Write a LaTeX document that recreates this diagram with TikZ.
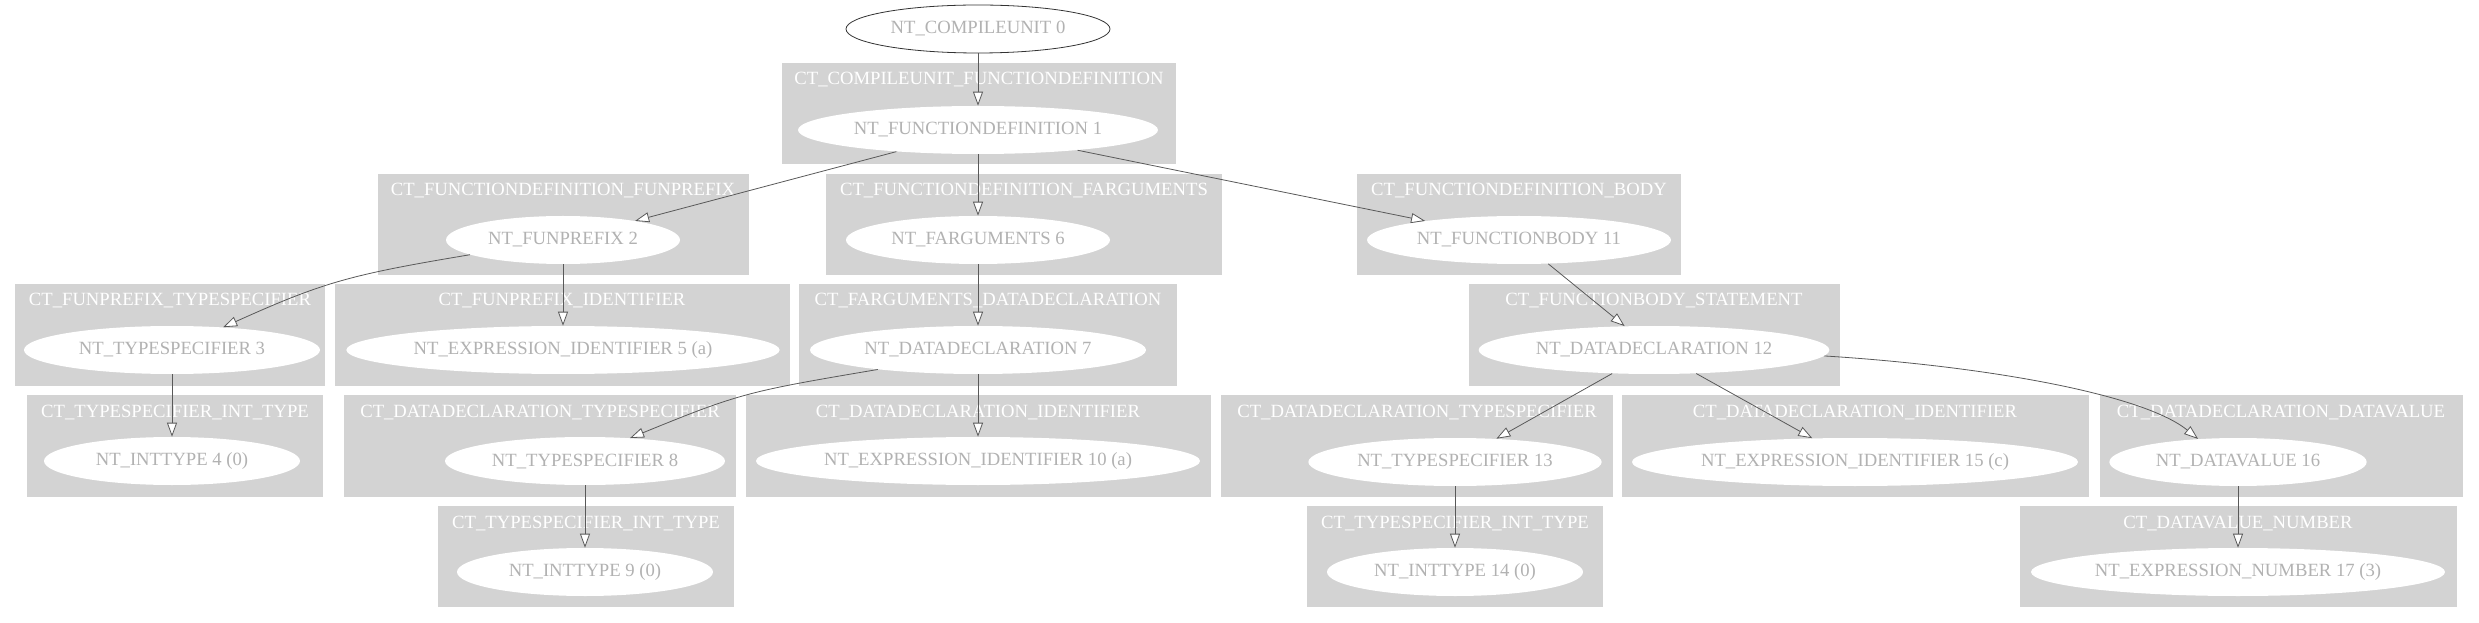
\documentclass[tikz,border=0pt]{standalone}
\usepackage{fontspec}
\setmainfont{Liberation Serif}
\usetikzlibrary{arrows.meta,shapes.geometric}
\definecolor{clgray}{HTML}{D3D3D3}
\begin{document}
\begin{tikzpicture}[x=0.75pt,y=-0.75pt,
  nt/.style={ellipse, fill=white, inner sep=0pt, minimum height=36pt, text=black!30, font=\fontsize{14}{16}\selectfont},
  root/.style={nt, draw=black!80, line width=0.6pt},
  cl/.style={fill=clgray},
  cll/.style={anchor=base, text=white, inner sep=0pt, font=\fontsize{14}{16}\selectfont},
  edge/.style={draw=black!65, line width=0.6pt, -{Triangle[length=10.5pt,width=7.5pt,fill=white]}}]
\useasboundingbox (0,0) rectangle (2479,623);
% clusters
\fill[cl] (782,63) rectangle (1176,164);   \node[cll] (l1) at (979,85) {CT\_COMPILEUNIT\_FUNCTIONDEFINITION};
\fill[cl] (378,174) rectangle (749,275);   \node[cll] (l2) at (563,196) {CT\_FUNCTIONDEFINITION\_FUNPREFIX};
\fill[cl] (826,174) rectangle (1222,275);  \node[cll] (l6) at (1024,196) {CT\_FUNCTIONDEFINITION\_FARGUMENTS};
\fill[cl] (1357,174) rectangle (1681,275); \node[cll] (l11) at (1519,196) {CT\_FUNCTIONDEFINITION\_BODY};
\fill[cl] (15,284) rectangle (325,386);    \node[cll] (l3) at (170,306) {CT\_FUNPREFIX\_TYPESPECIFIER};
\fill[cl] (335,284) rectangle (790,386);   \node[cll] (l5) at (562,306) {CT\_FUNPREFIX\_IDENTIFIER};
\fill[cl] (799,284) rectangle (1177,386);  \node[cll] (l7) at (988,306) {CT\_FARGUMENTS\_DATADECLARATION};
\fill[cl] (1469,284) rectangle (1840,386); \node[cll] (l12) at (1654,306) {CT\_FUNCTIONBODY\_STATEMENT};
\fill[cl] (27,395) rectangle (323,497);    \node[cll] (l4) at (175,417) {CT\_TYPESPECIFIER\_INT\_TYPE};
\fill[cl] (344,395) rectangle (736,497);   \node[cll] (l8) at (540,417) {CT\_DATADECLARATION\_TYPESPECIFIER};
\fill[cl] (746,395) rectangle (1211,497);  \node[cll] (l10) at (978,417) {CT\_DATADECLARATION\_IDENTIFIER};
\fill[cl] (1221,395) rectangle (1613,497); \node[cll] (l13) at (1417,417) {CT\_DATADECLARATION\_TYPESPECIFIER};
\fill[cl] (1622,395) rectangle (2089,497); \node[cll] (l15) at (1855,417) {CT\_DATADECLARATION\_IDENTIFIER};
\fill[cl] (2100,395) rectangle (2463,497); \node[cll] (l16) at (2281,417) {CT\_DATADECLARATION\_DATAVALUE};
\fill[cl] (438,506) rectangle (734,607);   \node[cll] (l9) at (586,528) {CT\_TYPESPECIFIER\_INT\_TYPE};
\fill[cl] (1307,506) rectangle (1603,607); \node[cll] (l14) at (1455,528) {CT\_TYPESPECIFIER\_INT\_TYPE};
\fill[cl] (2020,506) rectangle (2457,607); \node[cll] (l17) at (2238,528) {CT\_DATAVALUE\_NUMBER};
% nodes
\node[root, minimum width=198pt] (n0) at (978,29) {NT\_COMPILEUNIT 0};
\node[nt, minimum width=270pt] (n1) at (978,130) {NT\_FUNCTIONDEFINITION 1};
\node[nt, minimum width=175.5pt] (n2) at (563,240) {NT\_FUNPREFIX 2};
\node[nt, minimum width=198pt] (n6) at (978,240) {NT\_FARGUMENTS 6};
\node[nt, minimum width=228pt] (n11) at (1519,240) {NT\_FUNCTIONBODY 11};
\node[nt, minimum width=222pt] (n3) at (172,350) {NT\_TYPESPECIFIER 3};
\node[nt, minimum width=325pt] (n5) at (563,350) {NT\_EXPRESSION\_IDENTIFIER 5 (a)};
\node[nt, minimum width=252pt] (n7) at (978,350) {NT\_DATADECLARATION 7};
\node[nt, minimum width=263pt] (n12) at (1654,350) {NT\_DATADECLARATION 12};
\node[nt, minimum width=192pt] (n4) at (172,461) {NT\_INTTYPE 4 (0)};
\node[nt, minimum width=210pt] (n8) at (585,461) {NT\_TYPESPECIFIER 8};
\node[nt, minimum width=333pt] (n10) at (978,461) {NT\_EXPRESSION\_IDENTIFIER 10 (a)};
\node[nt, minimum width=220pt] (n13) at (1455,462) {NT\_TYPESPECIFIER 13};
\node[nt, minimum width=334.5pt] (n15) at (1855,462) {NT\_EXPRESSION\_IDENTIFIER 15 (c)};
\node[nt, minimum width=193pt] (n16) at (2238,462) {NT\_DATAVALUE 16};
\node[nt, minimum width=192pt] (n9) at (585,572) {NT\_INTTYPE 9 (0)};
\node[nt, minimum width=192pt] (n14) at (1455,572) {NT\_INTTYPE 14 (0)};
\node[nt, minimum width=310.5pt] (n17) at (2238,572) {NT\_EXPRESSION\_NUMBER 17 (3)};
% edges
\draw[edge] (n0) -- (n1);
\draw[edge] (n1) -- (n2);
\draw[edge] (n1) -- (n6);
\draw[edge] (n1) -- (n11);
\draw[edge] (n2.189) .. controls +(-120,20) and +(100,-45) .. (n3.24);
\draw[edge] (n2) -- (n5);
\draw[edge] (n3) -- (n4);
\draw[edge] (n6) -- (n7);
\draw[edge] (n7.191) .. controls +(-130,22) and +(110,-45) .. (n8.27);
\draw[edge] (n7) -- (n10);
\draw[edge] (n8) -- (n9);
\draw[edge] (n11) -- (n12);
\draw[edge] (n12) -- (n13);
\draw[edge] (n12) -- (n15);
\draw[edge] (n12.358) .. controls +(160,10) and +(-55,-45) .. (n16.150);
\draw[edge] (n13) -- (n14);
\draw[edge] (n16) -- (n17);
\end{tikzpicture}
\end{document}
